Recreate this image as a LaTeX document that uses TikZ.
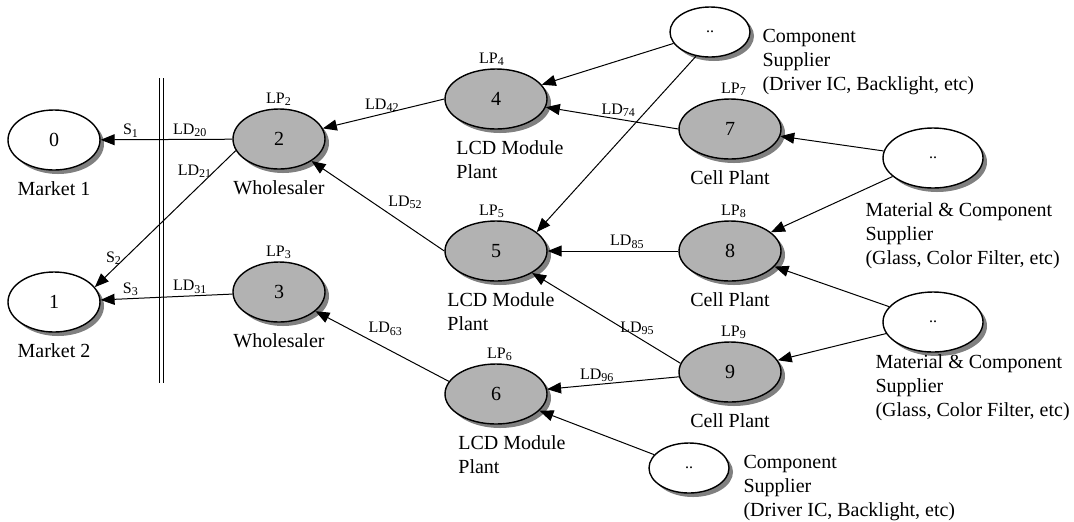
\documentclass[tikz,border=0pt]{standalone}
\usepackage{fontspec}
\setmainfont{Liberation Serif}
\usetikzlibrary{shapes,shadows,arrows.meta,positioning}
\tikzstyle{every picture}=[x=0.5pt, y=-0.5pt, line width=0.5pt,%
	>={Triangle[length=7pt,width=5.5pt]}, font=\fontsize{10}{12}\selectfont]
\tikzstyle{plant}=[ellipse, draw, line width=0.7pt, fill=gray!60, inner sep=0pt,%
	minimum width=51pt, minimum height=30pt,%
	drop shadow={shadow xshift=2pt, shadow yshift=-2pt, fill=black!50, opacity=1}]
\tikzstyle{wholesaler}=[plant, minimum width=46pt]
\tikzstyle{market}=[wholesaler, fill=white]
\tikzstyle{supplier}=[plant, fill=white, minimum width=50pt, font=\fontsize{8}{9}\selectfont]
\tikzstyle{small supplier}=[supplier, minimum width=40pt, minimum height=25pt]
\tikzstyle{tag}=[font=\fontsize{8}{9}\selectfont, inner sep=1pt]
\tikzstyle{caption}=[align=left, inner sep=0pt]

\begin{document}
\begin{tikzpicture}
\useasboundingbox (0,0) rectangle (1074,521);
% the market boundary
\coordinate (bartop) at (161.5,78);
\coordinate (barbot) at (161.5,383);
\draw[double, double distance=1.2pt] (bartop) -- (barbot);

\node[market] (n0) at (54,140) {0};
\node[market] (n1) at (54,302) {1};
\node[wholesaler] (n2) at (279,139) {2};
\node[wholesaler] (n3) at (279,292) {3};
\node[plant] (n4) at (496,99) {4};
\node[plant] (n5) at (496,251) {5};
\node[plant] (n6) at (496,394) {6};
\node[plant] (n7) at (730,129) {7};
\node[plant] (n8) at (730,251) {8};
\node[plant] (n9) at (730,372) {9};
\node[small supplier] (s1) at (710,32) {..};
\node[supplier] (s2) at (933,158) {..};
\node[supplier] (s3) at (933,322) {..};
\node[small supplier] (s4) at (689,468) {..};

\node[caption, below=5pt of n0] (c0) {Market 1};
\node[caption, below=5pt of n1] (c1) {Market 2};
\node[caption, below=5pt of n2] (c2) {Wholesaler};
\node[caption, below=5pt of n3] (c3) {Wholesaler};
\node[caption, below=5pt of n4, xshift=7pt] (c4) {LCD Module\\Plant};
\node[caption, below=5pt of n5, xshift=2.5pt] (c5) {LCD Module\\Plant};
\node[caption, below=5pt of n6, xshift=8pt] (c6) {LCD Module\\Plant};
\node[caption, below=5pt of n7] (c7) {Cell Plant};
\node[caption, below=5pt of n8] (c8) {Cell Plant};
\node[caption, below=5pt of n9] (c9) {Cell Plant};
\node[caption, anchor=north west] (cs1) at (762,29) {Component\\Supplier\\(Driver IC, Backlight, etc)};
\node[caption, anchor=north west] (cs2) at (865,202) {Material \& Component\\Supplier\\(Glass, Color Filter, etc)};
\node[caption, anchor=north west] (cs3) at (875,354) {Material \& Component\\Supplier\\(Glass, Color Filter, etc)};
\node[caption, anchor=north west] (cs4) at (743,455) {Component\\Supplier\\(Driver IC, Backlight, etc)};

\node[tag, above=0pt of n2] (lp2) {LP\textsubscript{2}};
\node[tag, above=0pt of n3] (lp3) {LP\textsubscript{3}};
\node[tag, above=0pt of n4, xshift=-2pt] (lp4) {LP\textsubscript{4}};
\node[tag, above=0pt of n5, xshift=-2pt] (lp5) {LP\textsubscript{5}};
\node[tag, above=0pt of n6, xshift=2pt] (lp6) {LP\textsubscript{6}};
\node[tag, above=0pt of n7, xshift=2pt] (lp7) {LP\textsubscript{7}};
\node[tag, above=0pt of n8, xshift=2pt] (lp8) {LP\textsubscript{8}};
\node[tag, above=0pt of n9, xshift=2pt] (lp9) {LP\textsubscript{9}};

% flows towards the markets
\path (n2) edge[->] node[tag, pos=.32, above] {LD\textsubscript{20}}
	node[tag, pos=.77, above] {S\textsubscript{1}} (n0);
\path (n2.195) edge[->] node[tag, pos=.15, left] {LD\textsubscript{21}}
	node[tag, pos=.79, left] {S\textsubscript{2}} (n1.20);
\path (n3) edge[->] node[tag, pos=.32, above] {LD\textsubscript{31}}
	node[tag, pos=.77, above] {S\textsubscript{3}} (n1);
\path (n4.west) edge[->] node[tag, pos=.51, above] {LD\textsubscript{42}} (n2);
\path (n5.west) edge[->] node[tag, pos=.44, above right] {LD\textsubscript{52}} (n2);
\path (n6.165) edge[->] node[tag, pos=.62, above right] {LD\textsubscript{63}} (n3);
\path (n7.west) edge[->] node[tag, pos=.45, above] {LD\textsubscript{74}} (n4);
\path (n8) edge[->] node[tag, pos=.39, above] {LD\textsubscript{85}} (n5);
\path (n9.170) edge[->] node[tag, pos=.29, above] {LD\textsubscript{95}} (n5);
\path (n9) edge[->] node[tag, pos=.62, above] {LD\textsubscript{96}} (n6);
% suppliers
\path (s1) edge[->] (n4);
\path (s1.240) edge[->] (n5.25);
\path (s2) edge[->] (n7) (s2) edge[->] (n8);
\path (s3) edge[->] (n8) (s3) edge[->] (n9);
\path (s4) edge[->] (n6);
\end{tikzpicture}
\end{document}
